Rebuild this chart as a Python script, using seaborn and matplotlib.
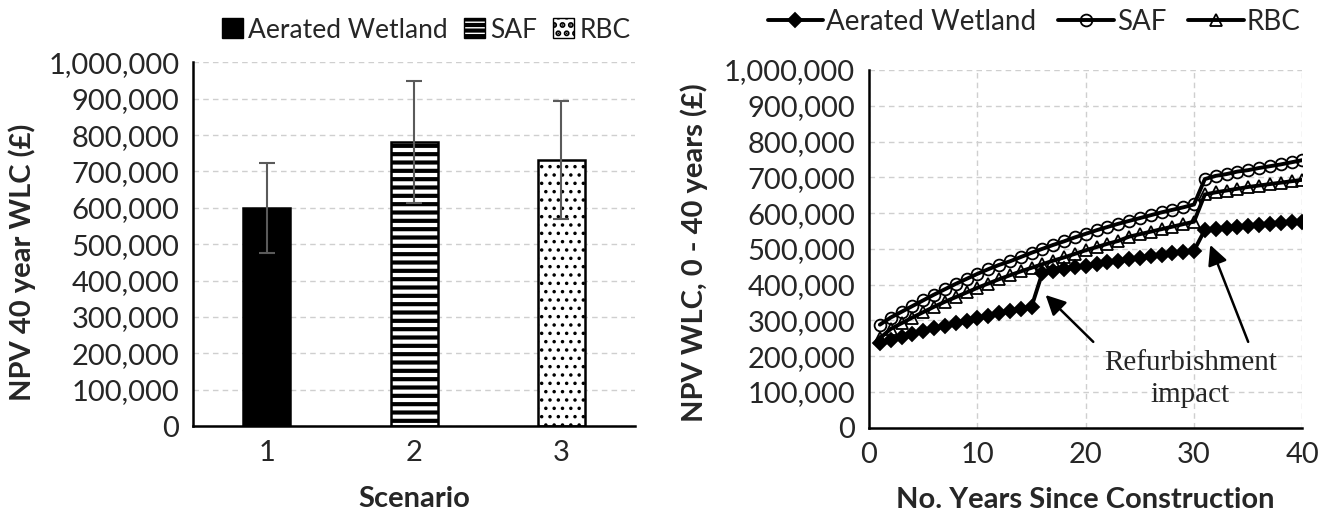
import matplotlib

matplotlib.use("Agg")
import matplotlib.pyplot as plt
import numpy as np
import pandas as pd
import seaborn as sns
from matplotlib.patches import Patch
from matplotlib.ticker import FuncFormatter, MultipleLocator


SCENARIOS = ["1", "2", "3"]
SYSTEMS = ["Aerated Wetland", "SAF", "RBC"]
WLC_40 = [600000, 780000, 731000]
WLC_ERR = [123000, 168000, 163000]

YEARS = [1, 2, 3, 4, 5, 6, 7, 8, 9, 10, 11, 12, 13, 14, 15, 16, 17, 18, 19, 20,
         21, 22, 23, 24, 25, 26, 27, 28, 29, 30, 31, 32, 33, 34, 35, 36, 37, 38, 39, 40]
# NPV WLC in thousands of pounds
AERATED_WETLAND = [236, 245, 253, 262, 270, 278, 285, 292, 299, 306,
                   313, 320, 326, 332, 338, 433, 438, 443, 448, 453,
                   457, 462, 467, 471, 475, 479, 483, 487, 491, 495,
                   553, 556, 559, 562, 564, 567, 569, 571, 574, 576]
SAF = [288, 308, 324, 340, 356, 372, 387, 402, 416, 430,
       443, 455, 465, 477, 489, 500, 511, 521, 532, 542,
       552, 561, 570, 578, 586, 594, 602, 609, 616, 624,
       695, 704, 709, 716, 720, 726, 731, 736, 742, 748]
RBC = [250, 276, 292, 308, 323, 338, 352, 365, 378, 391,
       403, 415, 426, 437, 447, 457, 467, 476, 486, 496,
       505, 514, 522, 534, 541, 548, 555, 562, 569, 576,
       652, 658, 663, 668, 673, 677, 681, 685, 689, 693]

SANS = ["Lato", "DejaVu Sans"]
SERIF = ["Liberation Serif", "DejaVu Serif"]
GRID = dict(color="#cfcfcf", linestyle=(0, (4, 3)), linewidth=1.0)


def thousands(value, _pos):
    return f"{value:,.0f}"


def style_axis(ax):
    sns.despine(ax=ax)
    for side in ("left", "bottom"):
        ax.spines[side].set_linewidth(1.8)
        ax.spines[side].set_color("black")
    ax.set_ylim(0, 1000000)
    ax.yaxis.set_major_locator(MultipleLocator(100000))
    ax.yaxis.set_major_formatter(FuncFormatter(thousands))
    ax.tick_params(axis="both", which="both", direction="out", length=7, width=1.8,
                   color="black", labelsize=21, pad=3)
    ax.set_axisbelow(True)


sns.set_theme(style="white")
plt.rcParams["font.family"] = SANS
plt.rcParams["hatch.linewidth"] = 3.0

fig = plt.figure(figsize=(13.3, 5.15), dpi=100)
ax1 = fig.add_axes([0.1453, 0.1728, 0.3321, 0.7062])
ax2 = fig.add_axes([0.6534, 0.1695, 0.3258, 0.6946])

# left: 40 year WLC per scenario
bar_df = pd.DataFrame({"scenario": SCENARIOS, "system": SYSTEMS, "wlc": WLC_40})
sns.barplot(data=bar_df, x="scenario", y="wlc", hue="system", hue_order=SYSTEMS,
            palette=["black", "white", "white"], width=0.32, dodge=False,
            edgecolor="black", linewidth=1.8, legend=False, ax=ax1)
hatches = ["", "--", ".."]
for patch, hatch in zip(ax1.patches, hatches):
    patch.set_hatch(hatch)
    if hasattr(patch, "set_hatch_linewidth"):
        patch.set_hatch_linewidth(3.0 if hatch == "--" else 1.3)
ax1.errorbar(np.arange(len(SCENARIOS)), WLC_40, yerr=WLC_ERR, fmt="none",
             ecolor="#5a5a5a", elinewidth=1.5, capsize=6, capthick=1.5)
style_axis(ax1)
ax1.set_xlim(-0.5, 2.5)
ax1.set_xticks([-0.5, 2.5], minor=True)
ax1.yaxis.grid(True, **GRID)
ax1.set_xlabel("Scenario", fontsize=21, fontweight="bold")
ax1.set_ylabel("NPV 40 year WLC (£)", fontsize=21, fontweight="bold")
ax1.xaxis.set_label_coords(0.5, -0.165)
ax1.yaxis.set_label_coords(-0.355, 0.45)

bar_handles = [
    Patch(facecolor="black", edgecolor="black", label=SYSTEMS[0]),
    Patch(facecolor="white", edgecolor="black", hatch="---", label=SYSTEMS[1]),
    Patch(facecolor="white", edgecolor="black", hatch="..", label=SYSTEMS[2]),
]
for handle in bar_handles[1:]:
    if hasattr(handle, "set_hatch_linewidth"):
        handle.set_hatch_linewidth(1.5)
fig.legend(handles=bar_handles, loc="center", bbox_to_anchor=(426 / 1330, 1 - 30 / 515),
           ncol=3, frameon=False, fontsize=19, handlelength=0.8, handleheight=0.8,
           handletextpad=0.2, columnspacing=0.6)

# right: cumulative NPV WLC over time
line_styles = [
    (AERATED_WETLAND, "D", "black", 7),
    (SAF, "o", "none", 8.5),
    (RBC, "^", "none", 9),
]
for name, (values, marker, face, size) in zip(SYSTEMS, line_styles):
    sns.lineplot(x=YEARS, y=np.array(values) * 1000, ax=ax2, color="black", linewidth=2.8,
                 marker=marker, markersize=size, markerfacecolor=face,
                 markeredgecolor="black", markeredgewidth=1.3, label=name, legend=False)
style_axis(ax2)
ax2.set_xlim(0, 40)
ax2.xaxis.set_major_locator(MultipleLocator(10))
ax2.grid(True, **GRID)
ax2.set_xlabel("No. Years Since Construction", fontsize=21, fontweight="bold")
ax2.set_ylabel("NPV WLC, 0 - 40 years (£)", fontsize=21, fontweight="bold")
ax2.xaxis.set_label_coords(0.5, -0.165)
ax2.yaxis.set_label_coords(-0.372, 0.49)

arrow = dict(arrowstyle="-|>", color="black", lw=1.8, mutation_scale=30, shrinkA=0, shrinkB=0)
ax2.annotate("", xy=(16.3, 371000), xytext=(20.7, 240000), arrowprops=arrow)
ax2.annotate("", xy=(31.5, 511000), xytext=(35.0, 240000), arrowprops=arrow)
ax2.text(29.65, 136000, "Refurbishment\nimpact", ha="center", va="center",
         fontsize=21, family=SERIF, linespacing=1.3)

line_handles = [ax2.lines[i] for i in range(3)]
fig.legend(handles=line_handles, labels=SYSTEMS, loc="center",
           bbox_to_anchor=(1034 / 1330, 1 - 22 / 515), ncol=3, frameon=False,
           fontsize=20, handlelength=2.0, handletextpad=0.1, columnspacing=0.8)

fig.savefig("out.png", dpi=100)
